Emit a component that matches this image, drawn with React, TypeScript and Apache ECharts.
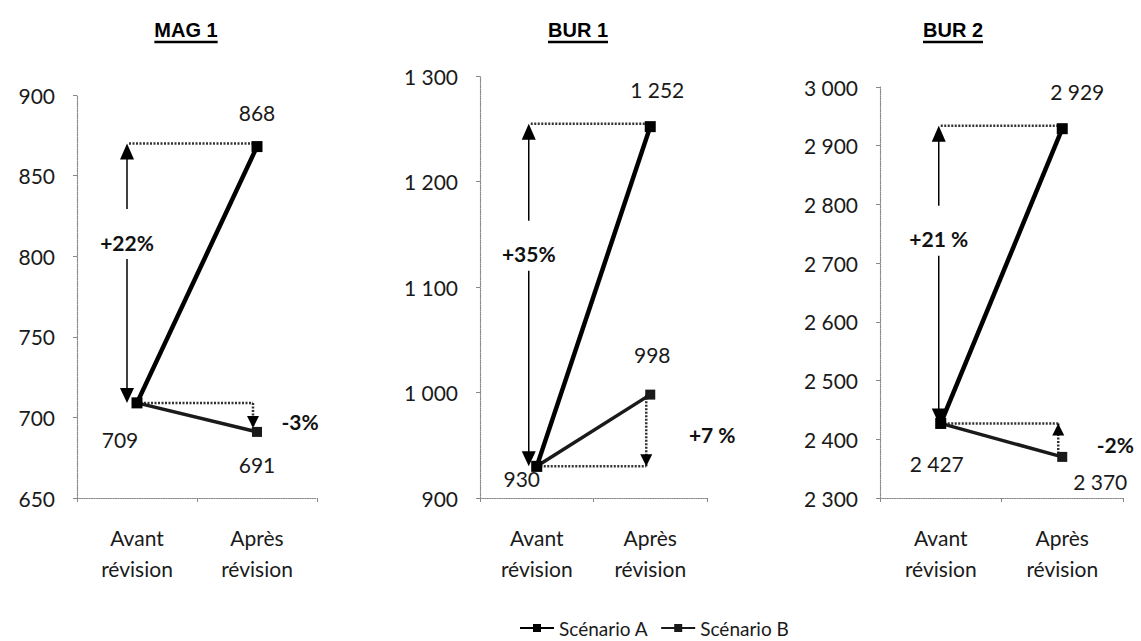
import React, { useEffect, useRef } from 'react';
import * as echarts from 'echarts';

// ---- data ----
const panelTitles = ['MAG 1', 'BUR 1', 'BUR 2'];
const categories = ['Avant\nrévision', 'Après\nrévision'];
const scenarioA = [[709, 868], [930, 1252], [2427, 2929]];
const scenarioB = [[709, 691], [930, 998], [2427, 2370]];
const yMin = [650, 900, 2300];
const yMax = [900, 1300, 3000];
const yStep = [50, 100, 100];
const changeA = ['+22%', '+35%', '+21 %'];
const changeB = ['-3%', '+7 %', '-2%'];
const seriesNames = ['Scénario A', 'Scénario B'];

// ---- layout / style ----
const grids = [
  { left: 77, width: 240, top: 95, height: 403 },
  { left: 480, width: 227, top: 76, height: 422 },
  { left: 880, width: 243, top: 87, height: 411 },
];
const titleX = [186, 578, 953];
const labelOffA = [[0, -34], [7, -37], [15, -37]];
const labelOffB0 = [[-17, 37], [-15, 12], [-4, 40]];
const labelOffB1 = [[0, 33], [2, -40], [38, 25]];
const arrowShift = [10, 8, 2];
const changeBShift = [43, 62, 53];
const headAt = ['after', 'before', 'before'];
const FONT = 'Lato, "Open Sans", sans-serif';

const fmt = (v: number) =>
  v >= 1000 ? Math.floor(v / 1000) + ' ' + String(v % 1000).padStart(3, '0') : String(v);

function measure(text: string, font: string) {
  const c = document.createElement('canvas').getContext('2d')!;
  c.font = font;
  return c.measureText(text).width;
}

export default function App() {
  const ref = useRef<HTMLDivElement>(null);
  useEffect(() => {
    document.body.style.margin = '0';
    const chart = echarts.init(ref.current!, null, { renderer: 'svg' });
    const series: any[] = [];
    panelTitles.forEach((_, i) => {
      series.push({
        name: seriesNames[0],
        type: 'line',
        xAxisIndex: i,
        yAxisIndex: i,
        z: 4,
        symbol: 'rect',
        symbolSize: 11,
        lineStyle: { color: '#000', width: 4.5 },
        itemStyle: { color: '#000' },
        data: [
          { value: scenarioA[i][0] },
          {
            value: scenarioA[i][1],
            label: { show: true, position: 'inside', offset: labelOffA[i] },
          },
        ],
        label: {
          show: false,
          formatter: (p: any) => fmt(p.value),
          color: '#1a1a1a',
          fontSize: 21,
          fontFamily: FONT,
        },
      });
      series.push({
        name: seriesNames[1],
        type: 'line',
        xAxisIndex: i,
        yAxisIndex: i,
        z: 3,
        symbol: 'rect',
        symbolSize: 10,
        lineStyle: { color: '#1a1a1a', width: 3.5 },
        itemStyle: { color: '#1a1a1a' },
        data: [
          {
            value: scenarioB[i][0],
            label: { show: true, position: 'inside', offset: labelOffB0[i] },
          },
          {
            value: scenarioB[i][1],
            label: { show: true, position: 'inside', offset: labelOffB1[i] },
          },
        ],
        label: {
          show: false,
          formatter: (p: any) => fmt(p.value),
          color: '#1a1a1a',
          fontSize: 21,
          fontFamily: FONT,
        },
      });
    });

    const axisLineStyle = { color: '#888', type: 'dotted' as const, width: 1.2 };
    const option: any = {
      animation: false,
      backgroundColor: '#fff',
      grid: grids.map((g) => ({ ...g, containLabel: false })),
      xAxis: grids.map((_, i) => ({
        type: 'category',
        gridIndex: i,
        data: categories,
        boundaryGap: true,
        axisLine: { show: true, lineStyle: axisLineStyle },
        axisTick: { show: true, length: 4, lineStyle: { color: '#888' } },
        axisLabel: {
          color: '#1a1a1a',
          fontSize: 21,
          fontFamily: FONT,
          lineHeight: 31,
          margin: 24,
          interval: 0,
        },
      })),
      yAxis: grids.map((_, i) => ({
        type: 'value',
        gridIndex: i,
        min: yMin[i],
        max: yMax[i],
        interval: yStep[i],
        splitLine: { show: false },
        axisLine: { show: true, lineStyle: axisLineStyle },
        axisTick: { show: true, length: 4, lineStyle: { color: '#888' } },
        axisLabel: {
          color: '#1a1a1a',
          fontSize: 21,
          fontFamily: FONT,
          margin: 22,
          formatter: (v: number) => fmt(v),
        },
      })),
      legend: {
        data: seriesNames,
        left: 514,
        top: 612,
        itemWidth: 34,
        itemHeight: 10,
        itemGap: 12,
        textStyle: { color: '#1a1a1a', fontSize: 19, fontFamily: FONT, lineHeight: 22 },
      },
      series,
    };
    chart.setOption(option);

    const g: any[] = [];
    const titleFont = 'bold 20px "Liberation Sans Narrow", "Liberation Sans", Arial, sans-serif';
    panelTitles.forEach((t, i) => {
      const w = measure(t, titleFont);
      g.push({
        type: 'text',
        x: titleX[i],
        y: 30,
        style: {
          text: t,
          font: titleFont,
          fill: '#000',
          textAlign: 'center',
          align: 'center',
          textVerticalAlign: 'middle',
          verticalAlign: 'middle',
        },
      });
      g.push({
        type: 'line',
        shape: { x1: titleX[i] - w / 2, y1: 42, x2: titleX[i] + w / 2, y2: 42 },
        style: { stroke: '#000', lineWidth: 2.5 },
      });

      const P = (c: number, v: number) =>
        chart.convertToPixel({ xAxisIndex: i, yAxisIndex: i } as any, [c, v]) as number[];
      const pB = P(0, scenarioA[i][0]);
      const pA = P(1, scenarioA[i][1]);
      const pBB = P(1, scenarioB[i][1]);
      const ax = pB[0] - arrowShift[i];
      const top = pA[1] - 3;
      const bottom = pB[1];
      const ly = top + 0.38 * (bottom - top);
      const thin = { stroke: '#000', lineWidth: 1.5 };
      const dotted = { stroke: '#333', lineWidth: 2.5, lineDash: [2, 1.5] };
      // main double arrow
      g.push({ type: 'line', shape: { x1: ax, y1: top + 14, x2: ax, y2: ly - 33 }, style: thin });
      g.push({ type: 'line', shape: { x1: ax, y1: ly + 17, x2: ax, y2: bottom - 12 }, style: thin });
      g.push({
        type: 'polygon',
        shape: { points: [[ax, top], [ax - 7, top + 16], [ax + 7, top + 16]] },
        style: { fill: '#000' },
      });
      g.push({
        type: 'polygon',
        shape: { points: [[ax, bottom], [ax - 7, bottom - 15], [ax + 7, bottom - 15]] },
        style: { fill: '#000' },
      });
      g.push({
        type: 'text',
        x: ax,
        y: ly,
        style: {
          text: changeA[i],
          font: 'bold 21px ' + FONT,
          fill: '#111',
          textAlign: 'center',
          align: 'center',
          textVerticalAlign: 'middle',
          verticalAlign: 'middle',
        },
      });
      // dotted top
      g.push({ type: 'line', shape: { x1: ax + 2, y1: top, x2: pA[0], y2: top }, style: dotted });
      // dotted bottom horizontal
      const bx = pBB[0] - 4;
      g.push({ type: 'line', shape: { x1: pB[0], y1: pB[1], x2: bx, y2: pB[1] }, style: dotted });
      // small vertical arrow
      g.push({ type: 'line', shape: { x1: bx, y1: pB[1], x2: bx, y2: pBB[1] }, style: dotted });
      const target = headAt[i] === 'after' ? pBB[1] - 4 : pB[1];
      const from = headAt[i] === 'after' ? pB[1] : pBB[1];
      const dir = target > from ? 1 : -1;
      g.push({
        type: 'polygon',
        shape: {
          points: [
            [bx, target],
            [bx - 6, target - dir * 12],
            [bx + 6, target - dir * 12],
          ],
        },
        style: { fill: '#000' },
      });
      g.push({
        type: 'text',
        x: pBB[0] + changeBShift[i],
        y: (pB[1] + pBB[1]) / 2 + 4,
        style: {
          text: changeB[i],
          font: 'bold 21px ' + FONT,
          fill: '#111',
          textAlign: 'center',
          align: 'center',
          textVerticalAlign: 'middle',
          verticalAlign: 'middle',
        },
      });
    });
    chart.setOption({ graphic: { elements: g } });

    return () => chart.dispose();
  }, []);
  return (
    <div
      ref={ref}
      style={{ position: 'absolute', left: 0, top: 0, width: 1141, height: 641, background: '#fff' }}
    />
  );
}
